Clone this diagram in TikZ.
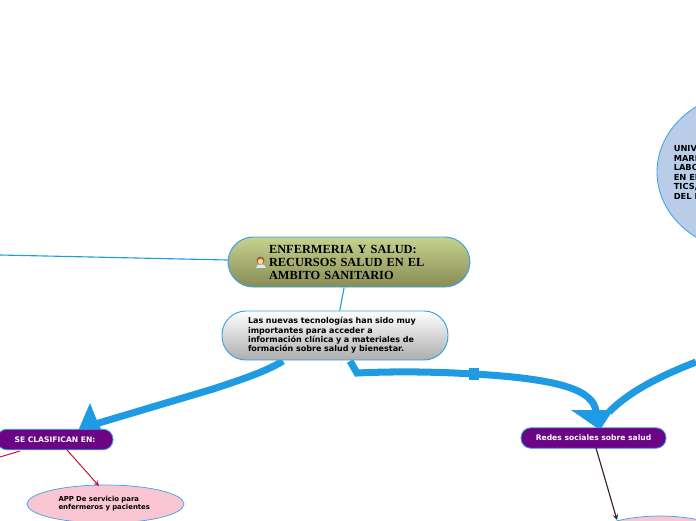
\documentclass[tikz,border=0pt]{standalone}
\usepackage{fontspec}
\setmainfont{DejaVu Sans}
\newfontfamily\rootfont{Liberation Serif}
\definecolor{linkblue}{HTML}{1E9BE2}
\definecolor{edgeblue}{HTML}{3BA3E6}
\definecolor{rootup}{HTML}{C6D28E}
\definecolor{rootdown}{HTML}{878C55}
\definecolor{purplebox}{HTML}{6C0585}
\definecolor{pinkbox}{HTML}{FBC6D3}
\definecolor{bluebox}{HTML}{B9CDE9}
\definecolor{linkred}{HTML}{C2143C}
\definecolor{linkbrown}{HTML}{3A2018}
\tikzset{
  rootbox/.style={draw=edgeblue,line width=0.7pt,rounded corners=18pt,top color=rootup,bottom color=rootdown,
    minimum width=242*0.025cm,minimum height=50*0.025cm,inner sep=0pt,text width=160*0.025cm,align=left,
    font=\rootfont\bfseries\fontsize{8.8}{9.25}\selectfont},
  descbox/.style={draw=edgeblue,line width=0.7pt,rounded corners=17pt,top color=white,bottom color=black!32,
    minimum width=226*0.025cm,minimum height=49*0.025cm,inner sep=0pt,text width=174*0.025cm,align=left,
    font=\bfseries\fontsize{5.7}{6.7}\selectfont},
  purpbox/.style={draw=edgeblue,line width=0.6pt,rounded corners=7pt,fill=purplebox,text=white,
    minimum height=20.5*0.025cm,inner sep=0pt,font=\bfseries\fontsize{5.4}{5.8}\selectfont},
  pinkell/.style={ellipse,draw=edgeblue,line width=0.5pt,fill=pinkbox,minimum width=157*0.025cm,minimum height=38*0.025cm,
    inner sep=0pt,text width=94*0.025cm,align=left,font=\bfseries\fontsize{4.9}{5.7}\selectfont},
  blueell/.style={ellipse,draw=edgeblue,line width=0.6pt,fill=bluebox,minimum width=186*0.025cm,minimum height=160*0.025cm,
    inner sep=0pt},
  fatlink/.style={draw=linkblue,line width=5pt},
  fattip/.style={fill=linkblue},
  thinlink/.style={draw=linkblue,line width=0.8pt},
  redlink/.style={draw=linkred,line width=0.7pt},
  brownlink/.style={draw=linkbrown,line width=0.8pt},
}
\usetikzlibrary{shapes.geometric}
\begin{document}
\begin{tikzpicture}[x=0.025cm,y=-0.025cm]
\useasboundingbox (0,0) rectangle (696,520);
% fat links
\coordinate (outleft) at (0,255);
\coordinate (descleft) at (283,361);
\coordinate (descright) at (350,361);
\coordinate (bend) at (357,373);
\coordinate (handle) at (474,374);
\coordinate (leftin) at (92,425);
\coordinate (rightin) at (596,412);
\coordinate (outright) at (696,362);
\coordinate (rightin2) at (609,412);
\coordinate (redout) at (0,457);
\coordinate (redstart) at (20,451);
\coordinate (redstart2) at (67,450);
\coordinate (brownstart) at (596,448);
\draw[fatlink] (descleft) .. controls (265,372) and (240,380) .. (213,389) -- (leftin);
\draw[fatlink] (descright) -- (bend) .. controls (400,371) and (440,372) .. (handle) .. controls (560,379) and (594,390) .. (rightin);
\draw[fatlink] (outright) .. controls (655,378) and (628,393) .. (rightin2);
\fill[linkblue] (468.5,368) rectangle (479,380);
\fill[fattip] (90,403) -- (98,423) -- (102,431) -- (78,431) -- cycle;
\fill[fattip] (571,410) -- (613,410) -- (600,430) -- cycle;
% boxes
\node[rootbox] (root) at (349,262) {ENFERMERIA Y SALUD:\\RECURSOS SALUD EN EL\\AMBITO SANITARIO};
\node[descbox] (desc) at (335,335.5) {\vphantom{p}Las nuevas tecnologías han sido muy\\importantes para acceder a\\información clínica y a materiales de\\formación sobre salud y bienestar.};
\node[purpbox,minimum width=116*0.025cm] (clasif) at (55,439.5) {SE CLASIFICAN EN:};
\node[purpbox,minimum width=145*0.025cm] (redes) at (593.5,438) {Redes sociales sobre salud};
\node[pinkell] (app) at (105.5,504) {APP De servicio para\\enfermeros y pacientes};
\node[pinkell,minimum height=60*0.025cm] (pinkdown) at (660,546) {};
\node[blueell] (univ) at (750,172) {};
\node[anchor=west,align=left,inner sep=0pt,font=\bfseries\fontsize{5.9}{6.7}\selectfont] (univtext) at (673.5,172.5) {UNIV\\MARI\\LABO\\EN EL\\TICS,\\DEL P};
% thin links
\draw[thinlink] (root) -- (desc);
\draw[thinlink] (root.west |- 0,260) -- (outleft);
\draw[redlink] (redstart) -- (redout);
\draw[redlink,-stealth] (redstart2) -- (99,486);
\draw[brownlink,-stealth] (brownstart) -- (617,520);
% nurse icon
\fill[white!85!teal] (255.5,268) .. controls (255.5,263) and (265.5,263) .. (265.5,268) -- cycle;
\fill[brown!80!black] (260.5,260.5) circle (4);
\fill[orange!35!white] (260.5,261.5) circle (2.7);
\end{tikzpicture}
\end{document}
